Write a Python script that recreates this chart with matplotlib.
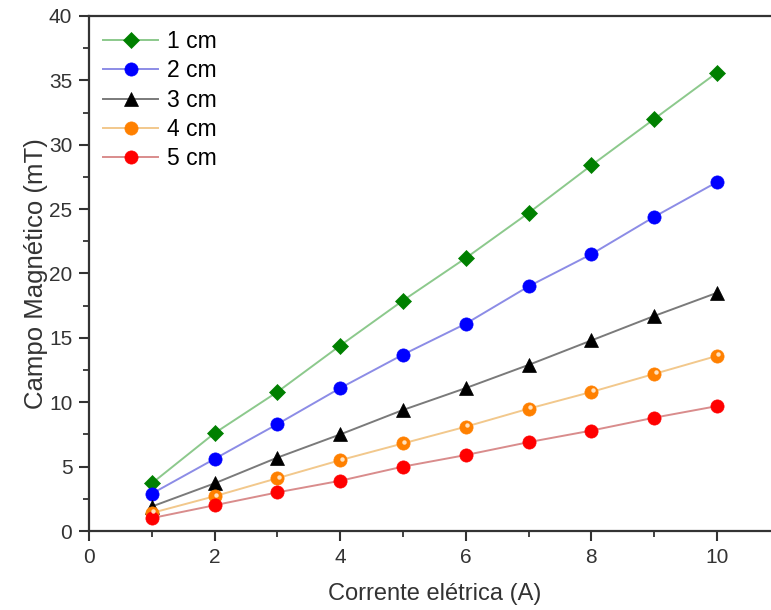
import numpy as np
import matplotlib.pyplot as plt
import matplotlib.transforms as mtransforms
from matplotlib.ticker import MultipleLocator

plt.rcParams["font.family"] = ["Liberation Sans", "DejaVu Sans"]

corrente = [1, 2, 3, 4, 5, 6, 7, 8, 9, 10]

campo_1cm = [3.7, 7.6, 10.8, 14.4, 17.9, 21.2, 24.7, 28.4, 32.0, 35.6]
campo_2cm = [2.9, 5.6, 8.3, 11.1, 13.7, 16.1, 19.0, 21.5, 24.4, 27.1]
campo_3cm = [1.9, 3.7, 5.7, 7.5, 9.4, 11.1, 12.9, 14.8, 16.7, 18.5]
campo_4cm = [1.4, 2.7, 4.1, 5.5, 6.8, 8.1, 9.5, 10.8, 12.2, 13.6]
campo_5cm = [1.0, 2.0, 3.0, 3.9, 5.0, 5.9, 6.9, 7.8, 8.8, 9.7]

rotulos = ["1 cm", "2 cm", "3 cm", "4 cm", "5 cm"]

# (serie, marcador, cor do marcador, cor da linha)
estilos = [
    (campo_1cm, "D", "#008000", "#8cc98c"),
    (campo_2cm, "o", "#0000ff", "#8c8ce6"),
    (campo_3cm, "^", "#000000", "#7a7a7a"),
    (campo_4cm, "o", "#ff8000", "#f2c88c"),
    (campo_5cm, "o", "#ff0000", "#d98c8c"),
]

fig = plt.figure(figsize=(7.71, 6.10), dpi=100)
ax = fig.add_axes([0.1154, 0.1295, 0.896, 0.8443])

for (serie, mk, cmk, clin), nome in zip(estilos, rotulos):
    ms = 8.5 if mk == "D" else 9.5
    ax.plot(corrente, serie, color=clin, lw=1.4, marker=mk, ms=ms,
            mfc=cmk, mec=cmk, mew=0.5, label=nome)

# brilho nos marcadores laranja
brilho = ax.transData + mtransforms.ScaledTranslation(1.5 / 100, 1.5 / 100,
                                                      fig.dpi_scale_trans)
ax.plot(corrente, campo_4cm, ls="none", marker="o", ms=3.2,
        mfc="#ffe2bf", mec="none", transform=brilho)

ax.set_xlim(0, 11)
ax.set_ylim(0, 40)
ax.xaxis.set_major_locator(MultipleLocator(2))
ax.xaxis.set_minor_locator(MultipleLocator(1))
ax.yaxis.set_major_locator(MultipleLocator(5))
ax.yaxis.set_minor_locator(MultipleLocator(2.5))
ax.set_xticks([0, 2, 4, 6, 8, 10])

ax.tick_params(which="major", direction="out", length=7, width=1.5,
               color="#333333", labelsize=15, labelcolor="#333333", pad=5)
ax.tick_params(which="minor", direction="out", length=4, width=1.3,
               color="#333333")
for lado in ["left", "bottom", "top", "right"]:
    ax.spines[lado].set_linewidth(1.6)
    ax.spines[lado].set_color("#333333")

ax.set_xlabel("Corrente elétrica (A)", fontsize=17, color="#333333",
              labelpad=12)
ax.set_ylabel("Campo Magnético (mT)", fontsize=18.5, color="#333333",
              labelpad=1)

ax.legend(loc="upper left", frameon=False, fontsize=16.5,
          handlelength=2.4, labelspacing=0.27, handletextpad=0.4,
          borderaxespad=0.22, bbox_to_anchor=(0.0, 1.0))

fig.savefig("out.png", dpi=100)
